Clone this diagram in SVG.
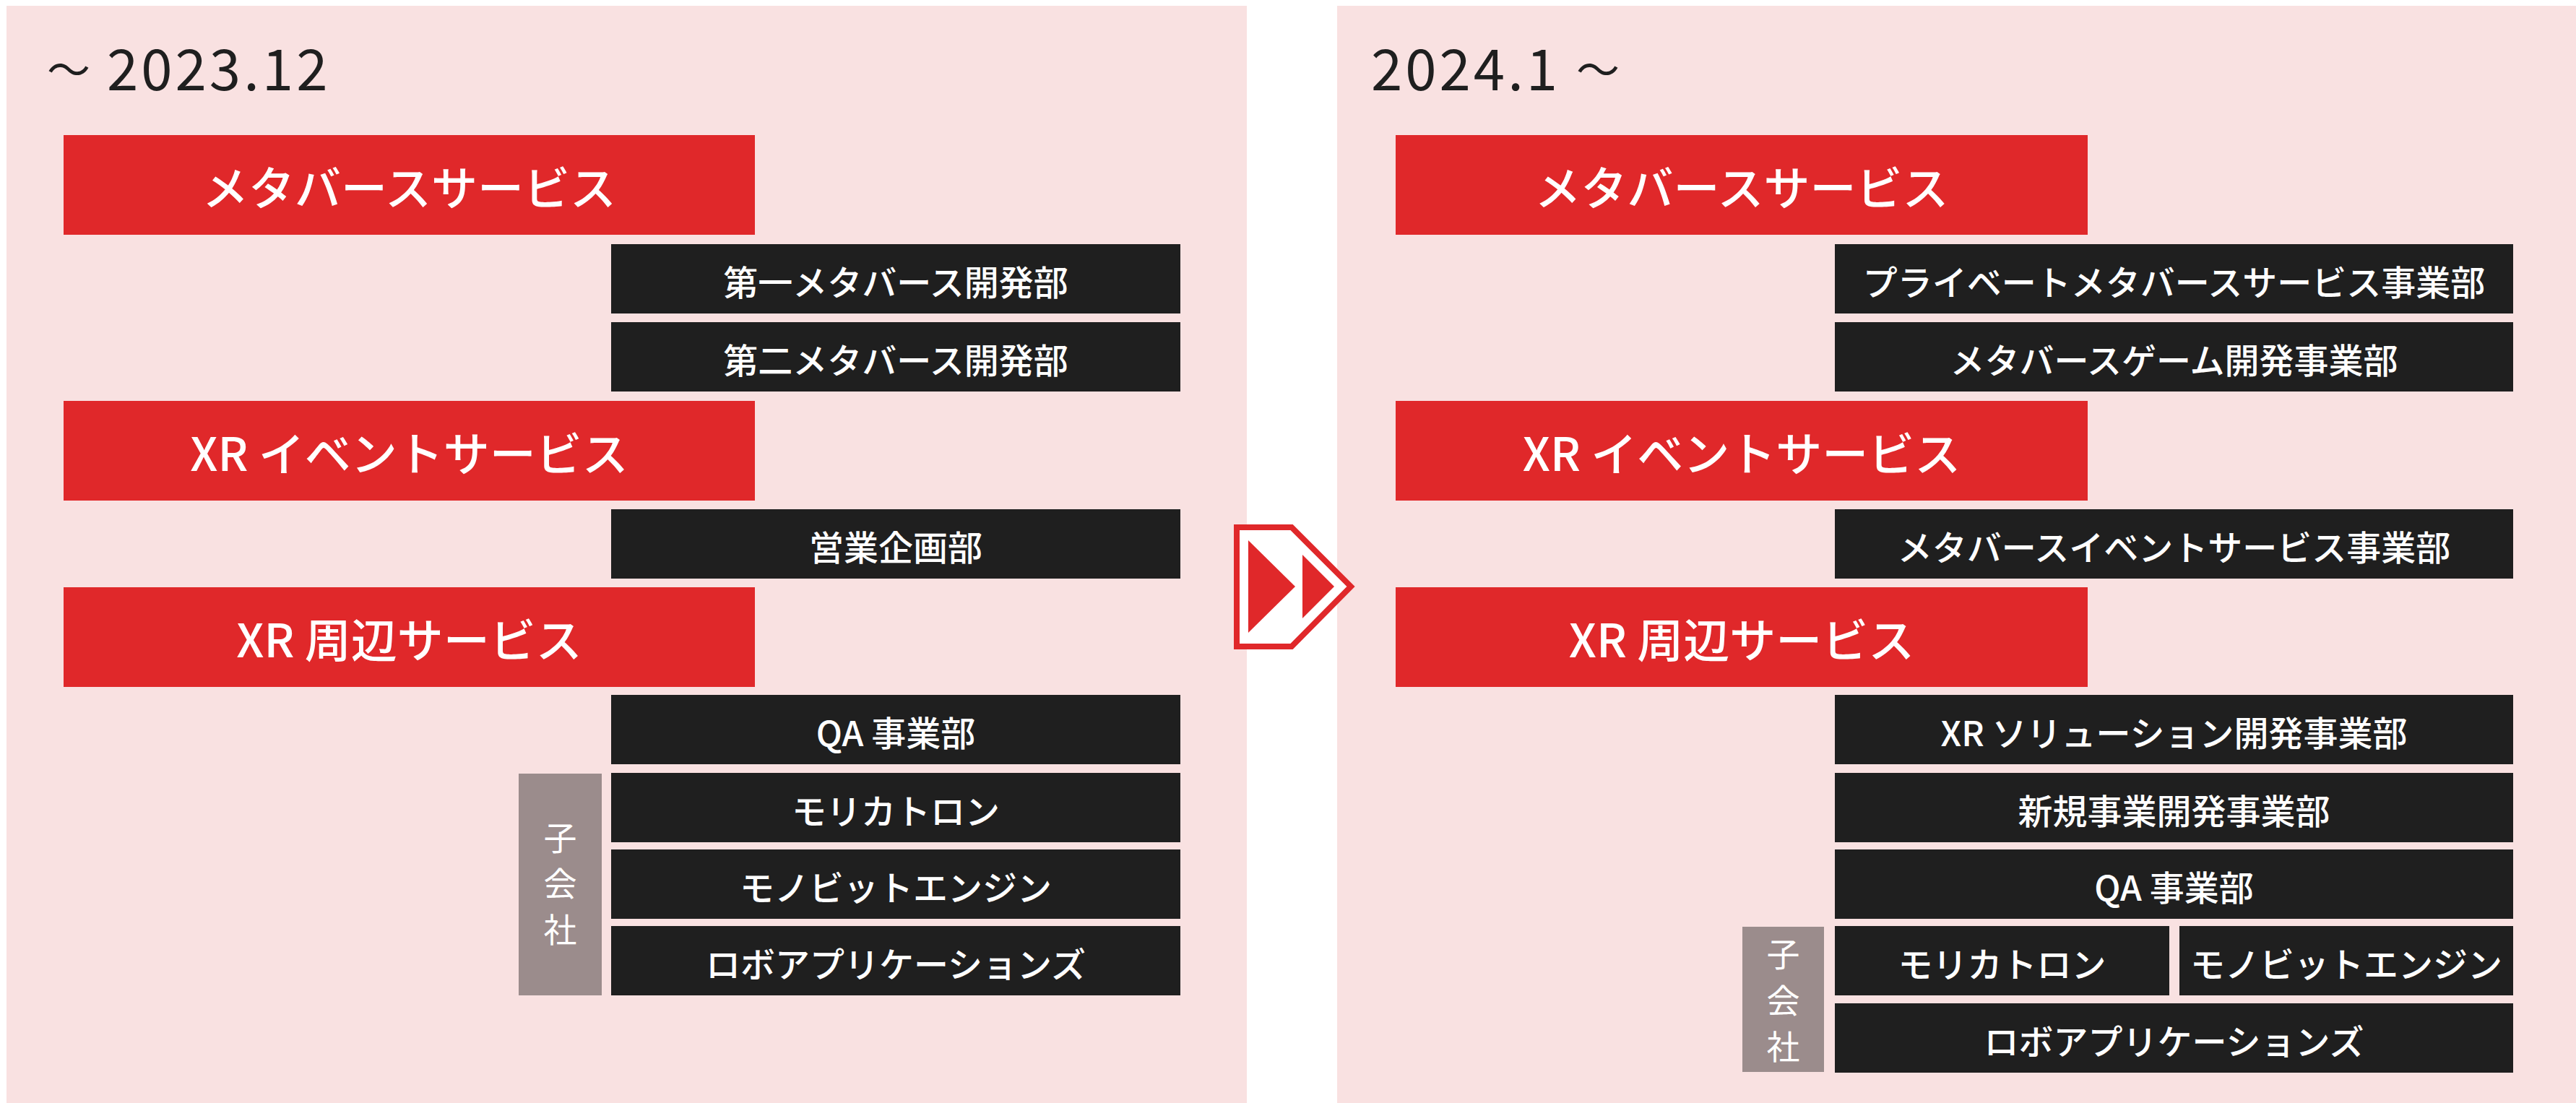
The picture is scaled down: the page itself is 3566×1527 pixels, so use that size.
<svg xmlns="http://www.w3.org/2000/svg" width="3566" height="1527" viewBox="0 0 3566 1527">
<style>
.panel{fill:#f9e1e1}
.svc{fill:#e0282a}
.dept{fill:#1f1f1f}
.sub{fill:#9b8c8c}
text{font-family:"Noto Sans CJK JP","Noto Sans",sans-serif;fill:#ffffff;text-anchor:middle}
.title{fill:#1f1f1f;font-size:78px;text-anchor:start;letter-spacing:4px}
.wave{fill:#1f1f1f;font-size:60px;text-anchor:start}
.st{font-size:64px;font-weight:500}
.dt{font-size:48px;font-weight:500}
.gt{font-size:46px}
</style>
<rect width="3566" height="1527" fill="#ffffff"/>
<g id="panel-before">
<rect class="panel" x="9" y="8" width="1717" height="1519"/>
<text class="wave" x="65" y="119">〜</text>
<text class="title" x="148" y="125">2023.12</text>
</g>
<g id="panel-after">
<rect class="panel" x="1851" y="8" width="1715" height="1519"/>
<text class="title" x="1898" y="125">2024.1</text>
<text class="wave" x="2182" y="119">〜</text>
</g>
<g id="arrow">
<path d="M1712,730 H1788 L1870,812 L1788,895 H1712 Z" fill="#ffffff" stroke="#e0282a" stroke-width="8"/>
<path d="M1728,748 L1793,812 L1728,876 Z" fill="#e0282a"/>
<path d="M1803,768 L1847,812 L1803,856 Z" fill="#e0282a"/>
</g>
<g id="l-metaverse"><rect class="svc" x="88" y="187" width="957" height="138"/><text class="st" x="566.5" y="284">メタバースサービス</text></g>
<g id="l-dept1"><rect class="dept" x="846" y="338" width="788" height="96"/><text class="dt" x="1240" y="408.5">第一メタバース開発部</text></g>
<g id="l-dept2"><rect class="dept" x="846" y="446" width="788" height="96"/><text class="dt" x="1240" y="516.5">第二メタバース開発部</text></g>
<g id="l-xrevent"><rect class="svc" x="88" y="555" width="957" height="138"/><text class="st" x="566.5" y="652">XR イベントサービス</text></g>
<g id="l-sales"><rect class="dept" x="846" y="705" width="788" height="96"/><text class="dt" x="1240" y="775.5">営業企画部</text></g>
<g id="l-xrperi"><rect class="svc" x="88" y="813" width="957" height="138"/><text class="st" x="566.5" y="910">XR 周辺サービス</text></g>
<g id="l-qa"><rect class="dept" x="846" y="962" width="788" height="96"/><text class="dt" x="1240" y="1032.5">QA 事業部</text></g>
<g id="l-subsidiary"><rect class="sub" x="718" y="1071" width="115" height="307"/><text class="gt" x="775.5" y="1177">子</text><text class="gt" x="775.5" y="1240">会</text><text class="gt" x="775.5" y="1304">社</text></g>
<g id="l-morikatron"><rect class="dept" x="846" y="1070" width="788" height="96"/><text class="dt" x="1240" y="1140.5">モリカトロン</text></g>
<g id="l-monobit"><rect class="dept" x="846" y="1176" width="788" height="96"/><text class="dt" x="1240" y="1246.5">モノビットエンジン</text></g>
<g id="l-robo"><rect class="dept" x="846" y="1282" width="788" height="96"/><text class="dt" x="1240" y="1352.5">ロボアプリケーションズ</text></g>
<g id="r-metaverse"><rect class="svc" x="1932" y="187" width="958" height="138"/><text class="st" x="2411" y="284">メタバースサービス</text></g>
<g id="r-dept1"><rect class="dept" x="2540" y="338" width="939" height="96"/><text class="dt" x="3009.5" y="408.5">プライベートメタバースサービス事業部</text></g>
<g id="r-dept2"><rect class="dept" x="2540" y="446" width="939" height="96"/><text class="dt" x="3009.5" y="516.5">メタバースゲーム開発事業部</text></g>
<g id="r-xrevent"><rect class="svc" x="1932" y="555" width="958" height="138"/><text class="st" x="2411" y="652">XR イベントサービス</text></g>
<g id="r-event"><rect class="dept" x="2540" y="705" width="939" height="96"/><text class="dt" x="3009.5" y="775.5">メタバースイベントサービス事業部</text></g>
<g id="r-xrperi"><rect class="svc" x="1932" y="813" width="958" height="138"/><text class="st" x="2411" y="910">XR 周辺サービス</text></g>
<g id="r-solution"><rect class="dept" x="2540" y="962" width="939" height="96"/><text class="dt" x="3009.5" y="1032.5">XR ソリューション開発事業部</text></g>
<g id="r-newbiz"><rect class="dept" x="2540" y="1070" width="939" height="96"/><text class="dt" x="3009.5" y="1140.5">新規事業開発事業部</text></g>
<g id="r-qa"><rect class="dept" x="2540" y="1176" width="939" height="96"/><text class="dt" x="3009.5" y="1246.5">QA 事業部</text></g>
<g id="r-subsidiary"><rect class="sub" x="2412" y="1283" width="113" height="201"/><text class="gt" x="2468.5" y="1338">子</text><text class="gt" x="2468.5" y="1402">会</text><text class="gt" x="2468.5" y="1466">社</text></g>
<g id="r-morikatron"><rect class="dept" x="2540" y="1282" width="463" height="96"/><text class="dt" x="2771.5" y="1352.5">モリカトロン</text></g>
<g id="r-monobit"><rect class="dept" x="3017" y="1282" width="462" height="96"/><text class="dt" x="3248" y="1352.5">モノビットエンジン</text></g>
<g id="r-robo"><rect class="dept" x="2540" y="1389" width="939" height="96"/><text class="dt" x="3009.5" y="1459.5">ロボアプリケーションズ</text></g>
<g id="connectors"></g>
</svg>
